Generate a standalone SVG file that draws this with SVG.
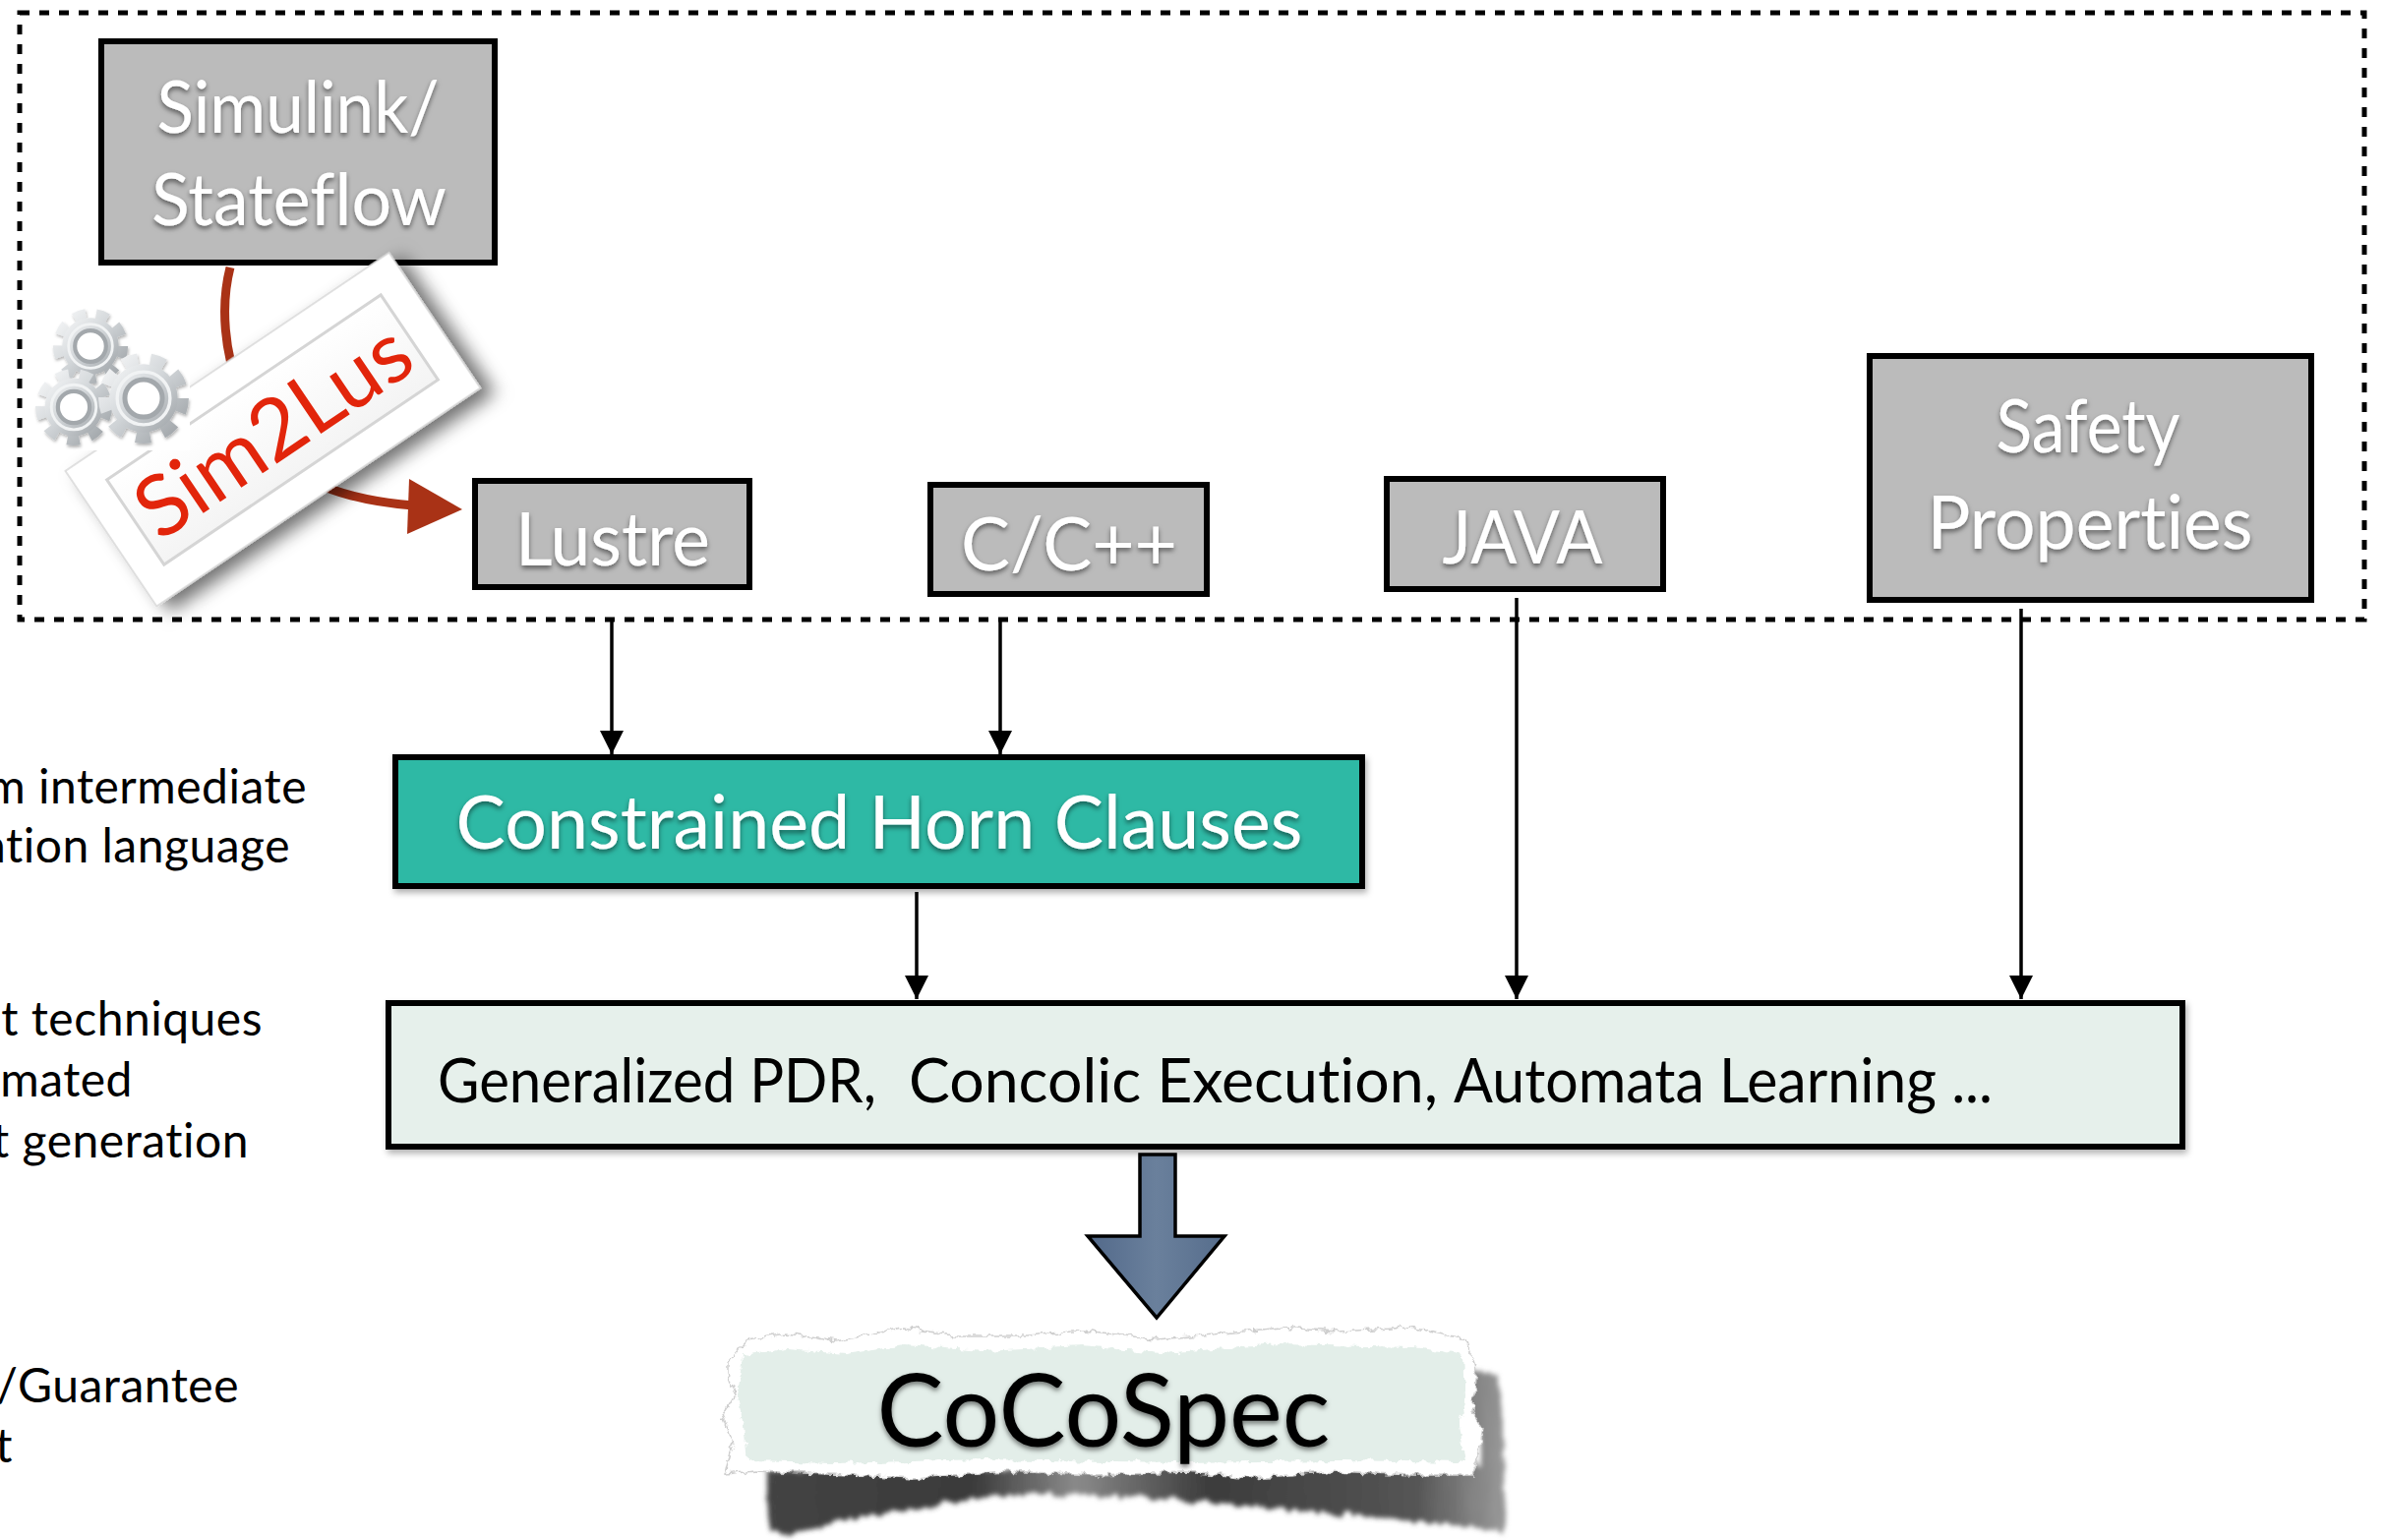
<svg xmlns="http://www.w3.org/2000/svg" width="2426" height="1566" viewBox="0 0 2426 1566">
  <style>
    text { font-variant-ligatures:none; font-feature-settings:"liga" 0, "clig" 0; }
    .box { fill:#bbbbbb; stroke:#000; stroke-width:6; }
    .lbl { fill:#ffffff; font-family:Lato, "Liberation Sans", sans-serif; text-anchor:middle; filter:url(#tshadow); }
    .side { fill:#000; font-family:Lato, "Liberation Sans", sans-serif; font-size:48px; text-anchor:end; letter-spacing:0.5px; }
    .conn { stroke:#000; stroke-width:3.5; fill:none; marker-end:url(#ah); }
  </style>
  <defs>
    <marker id="ah" viewBox="0 0 24 24" refX="24" refY="12" markerWidth="24" markerHeight="24" orient="auto" markerUnits="userSpaceOnUse">
      <path d="M0,0 L24,12 L0,24 Z" fill="#000"/>
    </marker>
    <filter id="tshadow" x="-10%" y="-20%" width="120%" height="150%">
      <feDropShadow dx="0" dy="3" stdDeviation="2.5" flood-color="#000" flood-opacity="0.5"/>
    </filter>
    <filter id="softshadow" x="-5%" y="-10%" width="110%" height="130%">
      <feDropShadow dx="2" dy="4" stdDeviation="3" flood-color="#000" flood-opacity="0.3"/>
    </filter>
    <filter id="tagshadow" x="-30%" y="-40%" width="160%" height="190%">
      <feDropShadow dx="9" dy="12" stdDeviation="9" flood-color="#000" flood-opacity="0.55"/>
    </filter>
    <filter id="gearshade" x="-20%" y="-20%" width="140%" height="140%">
      <feDropShadow dx="1" dy="2" stdDeviation="1.5" flood-color="#000" flood-opacity="0.3"/>
    </filter>
    <filter id="torn" x="-5%" y="-20%" width="110%" height="140%">
      <feTurbulence type="fractalNoise" baseFrequency="0.11" numOctaves="3" seed="4" result="n"/>
      <feDisplacementMap in="SourceGraphic" in2="n" scale="9" xChannelSelector="R" yChannelSelector="G"/>
    </filter>
    <filter id="tornshadow" x="-5%" y="-30%" width="110%" height="160%">
      <feTurbulence type="fractalNoise" baseFrequency="0.12 0.02" numOctaves="3" seed="7" result="n"/>
      <feDisplacementMap in="SourceGraphic" in2="n" scale="14" xChannelSelector="R" yChannelSelector="G" result="d"/>
      <feGaussianBlur in="d" stdDeviation="2.5"/>
    </filter>
    <linearGradient id="metal" x1="0" y1="0" x2="1" y2="1">
      <stop offset="0" stop-color="#f6f7f8"/>
      <stop offset="0.45" stop-color="#d3d7da"/>
      <stop offset="1" stop-color="#9ca1a5"/>
    </linearGradient>
    <linearGradient id="tagfill" x1="0" y1="0" x2="0" y2="1">
      <stop offset="0" stop-color="#ffffff"/>
      <stop offset="1" stop-color="#f4f4f4"/>
    </linearGradient>
    <linearGradient id="steel" x1="0" y1="0" x2="1" y2="0">
      <stop offset="0" stop-color="#52698a"/>
      <stop offset="0.5" stop-color="#6a809c"/>
      <stop offset="1" stop-color="#566d8c"/>
    </linearGradient>
    <linearGradient id="shadowgrad" x1="0" y1="0" x2="1" y2="0">
      <stop offset="0" stop-color="#444"/>
      <stop offset="0.28" stop-color="#3a3a3a"/>
      <stop offset="0.42" stop-color="#8a8a8a"/>
      <stop offset="0.6" stop-color="#3c3c3c"/>
      <stop offset="0.88" stop-color="#555"/>
      <stop offset="1" stop-color="#9a9a9a"/>
    </linearGradient>
    <!-- one metallic gear, radius about 41 -->
    <g id="gear">
      <circle r="35" fill="none" stroke="url(#metal)" stroke-width="12" stroke-dasharray="13 11.4"/>
      <circle r="31" fill="url(#metal)"/>
      <circle r="24" fill="none" stroke="#f1f3f4" stroke-width="3"/>
      <circle r="17" fill="#ffffff" stroke="#a3a8ac" stroke-width="4.5"/>
    </g>
  </defs>

  <rect width="2426" height="1566" fill="#ffffff"/>

  <!-- dashed frame around the source inputs -->
  <rect id="inputs-frame" x="20" y="13" width="2384" height="617" fill="none" stroke="#000" stroke-width="5" stroke-dasharray="10 10"/>

  <!-- side notes, running off the left edge -->
  <g id="side-notes">
    <text class="side" x="312" y="817">m intermediate</text>
    <text class="side" x="295" y="877">ation language</text>
    <text class="side" x="267" y="1053">t techniques</text>
    <text class="side" x="135" y="1115">omated</text>
    <text class="side" x="253" y="1177">t generation</text>
    <text class="side" x="243" y="1426">/Guarantee</text>
    <text class="side" x="13" y="1487">t</text>
  </g>

  <!-- connectors -->
  <g id="connectors">
    <line class="conn" x1="622" y1="628" x2="622" y2="767"/>
    <line class="conn" x1="1017" y1="630" x2="1017" y2="767"/>
    <line class="conn" x1="932" y1="907" x2="932" y2="1016"/>
    <line class="conn" x1="1542" y1="608" x2="1542" y2="1016"/>
    <line class="conn" x1="2055" y1="619" x2="2055" y2="1016"/>
    <!-- Sim2Lus translation arrow -->
    <path d="M234,272 C214,350 250,460 330,495 C360,507 395,512 420,514" fill="none" stroke="#a93216" stroke-width="9"/>
    <polygon points="416,487 470,518 414,543" fill="#a93216"/>
    <!-- block arrow down to CoCoSpec -->
    <path d="M1159,1174 H1195 V1257 H1245 L1176,1340 L1106,1257 H1159 Z" fill="url(#steel)" stroke="#000" stroke-width="3.5" stroke-linejoin="miter"/>
  </g>

  <g id="simulink">
    <rect class="box" x="103" y="42" width="400" height="225"/>
    <text class="lbl" x="303" y="135" font-size="74" textLength="287" lengthAdjust="spacingAndGlyphs">Simulink/</text>
    <text class="lbl" x="304" y="229" font-size="74" textLength="300" lengthAdjust="spacingAndGlyphs">Stateflow</text>
  </g>

  <g id="sim2lus">
    <g transform="translate(277,437) rotate(-34)">
      <rect x="-198" y="-83" width="397" height="166" fill="#ffffff" stroke="#d6d6d6" stroke-width="1.5" filter="url(#tagshadow)"/>
      <rect x="-168" y="-52" width="336" height="104" fill="url(#tagfill)" stroke="#d5d5d5" stroke-width="3"/>
      <text x="0" y="31" font-family="Lato, 'Liberation Sans', sans-serif" font-size="86" fill="#e2250b" text-anchor="middle" textLength="318" lengthAdjust="spacingAndGlyphs">Sim2Lus</text>
    </g>
  </g>

  <g id="gears">
    <rect x="35" y="305" width="158" height="153" fill="#ffffff"/>
    <g filter="url(#gearshade)">
      <use href="#gear" transform="translate(92,352) scale(0.93)"/>
      <use href="#gear" transform="translate(75,414) scale(0.95)"/>
      <use href="#gear" transform="translate(146,405) scale(1.12)"/>
    </g>
  </g>

  <g id="lustre">
    <rect class="box" x="483" y="489" width="279" height="108"/>
    <text class="lbl" x="623" y="575" font-size="75" textLength="198" lengthAdjust="spacingAndGlyphs">Lustre</text>
  </g>

  <g id="c-cpp">
    <rect class="box" x="946" y="493" width="281" height="111"/>
    <text class="lbl" x="1087" y="580" font-size="75" textLength="220" lengthAdjust="spacingAndGlyphs">C/C++</text>
  </g>

  <g id="java">
    <rect class="box" x="1410" y="487" width="281" height="112"/>
    <text class="lbl" x="1548" y="573" font-size="75" textLength="163" lengthAdjust="spacingAndGlyphs">JAVA</text>
  </g>

  <g id="safety">
    <rect class="box" x="1901" y="362" width="449" height="248"/>
    <text class="lbl" x="2123" y="460" font-size="75" textLength="187" lengthAdjust="spacingAndGlyphs">Safety</text>
    <text class="lbl" x="2125" y="558" font-size="75" textLength="331" lengthAdjust="spacingAndGlyphs">Properties</text>
  </g>

  <g id="horn-clauses">
    <rect x="402" y="770" width="983" height="131" fill="#2db9a5" stroke="#000" stroke-width="6" filter="url(#softshadow)"/>
    <text class="lbl" x="894" y="863" font-size="75" textLength="861" lengthAdjust="spacingAndGlyphs">Constrained Horn Clauses</text>
  </g>

  <g id="techniques">
    <rect x="395" y="1020" width="1824" height="146" fill="#e6f0eb" stroke="#000" stroke-width="6" filter="url(#softshadow)"/>
    <g font-family="Lato, 'Liberation Sans', sans-serif" font-size="62" fill="#000">
      <text x="445" y="1121" textLength="446" lengthAdjust="spacingAndGlyphs">Generalized PDR,</text>
      <text x="924" y="1121" textLength="538" lengthAdjust="spacingAndGlyphs">Concolic Execution,</text>
      <text x="1478" y="1121" textLength="548" lengthAdjust="spacingAndGlyphs">Automata Learning ...</text>
    </g>
  </g>

  <g id="cocospec">
    <!-- torn paper shadow -->
    <path d="M778,1495 L1505,1488 L1490,1392 L1522,1398 L1530,1470 L1528,1558 L1490,1552 L1420,1545 L1330,1538 L1240,1528 L1150,1522 L1060,1520 L1000,1522 L930,1535 L860,1545 L800,1562 L782,1555 Z" fill="url(#shadowgrad)" filter="url(#tornshadow)"/>
    <!-- torn paper -->
    <path d="M740,1385 L760,1362 L800,1356 L850,1364 L918,1350 L970,1358 L1044,1358 L1102,1353 L1176,1362 L1234,1357 L1303,1350 L1360,1354 L1435,1350 L1490,1362 L1502,1397 L1497,1433 L1508,1452 L1502,1487 L1497,1500 L1435,1500 L1360,1496 L1274,1503 L1205,1497 L1113,1500 L1021,1496 L930,1503 L843,1499 L769,1496 L737,1499 L745,1467 L734,1440 L748,1417 L740,1397 Z" fill="#ffffff" stroke="#cfcfcf" stroke-width="1.5" filter="url(#torn)"/>
    <path d="M755,1378 L800,1372 L860,1377 L920,1368 L1000,1374 L1100,1369 L1180,1376 L1300,1367 L1440,1370 L1488,1378 L1490,1420 L1484,1450 L1490,1487 L1360,1485 L1200,1487 L1000,1484 L850,1488 L760,1486 L756,1450 L750,1420 Z" fill="#e3eee9" filter="url(#torn)"/>
    <text x="1122" y="1471" font-family="Lato, 'Liberation Sans', sans-serif" font-size="102" fill="#000" text-anchor="middle" textLength="461" lengthAdjust="spacingAndGlyphs" filter="url(#tshadow)">CoCoSpec</text>
  </g>
</svg>
